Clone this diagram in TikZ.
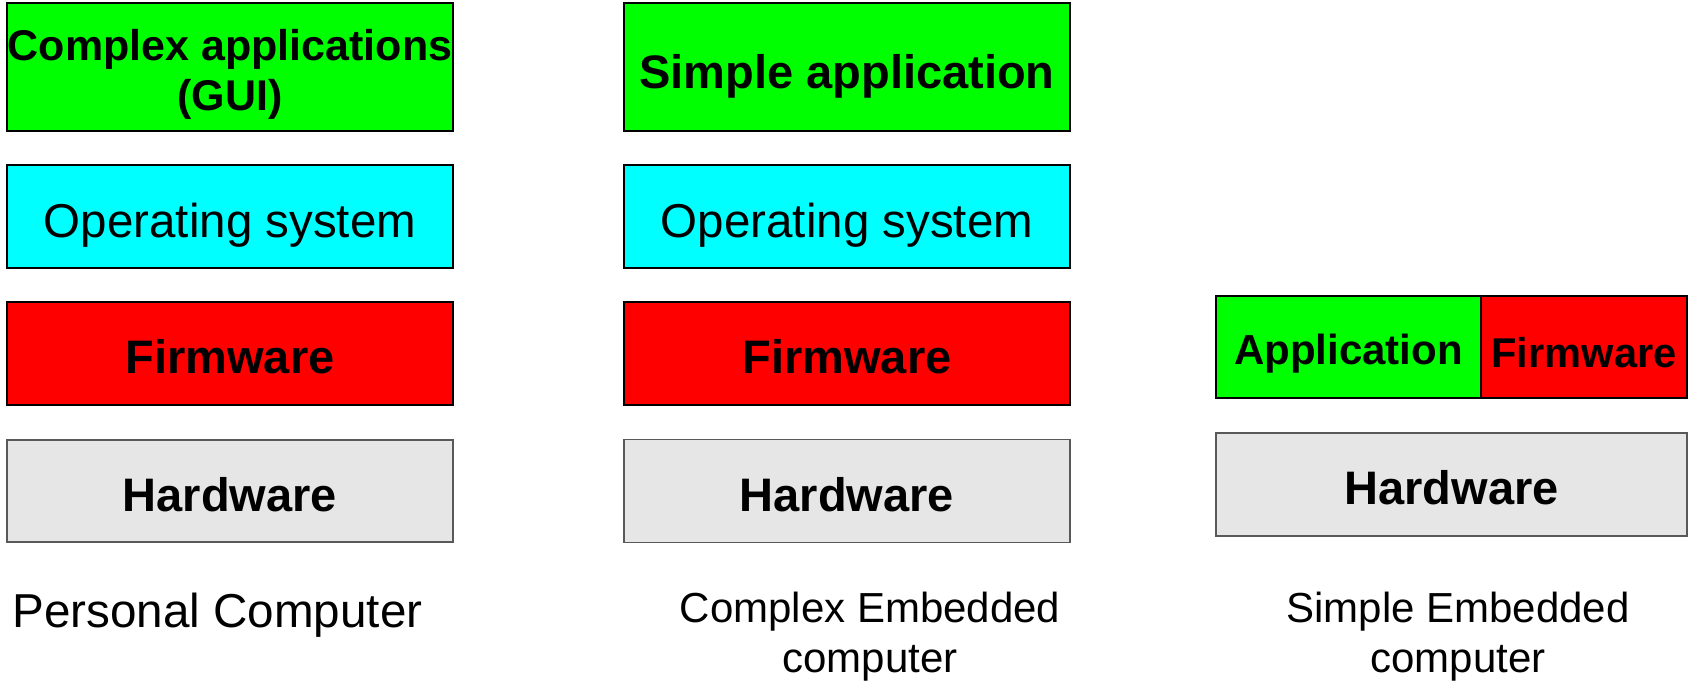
\documentclass[tikz,border=0pt]{standalone}
\usepackage{fontspec}
\setmainfont{Liberation Sans}
\definecolor{appgreen}{HTML}{00FF00}
\definecolor{oscyan}{HTML}{00FFFF}
\definecolor{fwred}{HTML}{FF0000}
\definecolor{hwgray}{HTML}{E6E6E6}

\begin{document}
\begin{tikzpicture}[x=0.5pt,y=-0.5pt,
  layer/.style={draw=black,line width=0.75pt,inner sep=0pt,outer sep=0pt,align=center,
    minimum height=51.5pt,text height=20pt,text depth=0pt,
    font=\bfseries\fontsize{23.5}{28}\selectfont},
  wide/.style={layer,minimum width=223pt},
  applayer/.style={fill=appgreen},
  oslayer/.style={fill=oscyan,text height=20.5pt,font=\fontsize{23.75}{28}\selectfont},
  fwlayer/.style={fill=fwred},
  hwlayer/.style={fill=hwgray,draw=black!65},
  small/.style={text height=17pt,font=\bfseries\fontsize{21}{25}\selectfont},
  caption/.style={inner sep=0pt,align=center,font=\fontsize{21}{25}\selectfont}]
  \useasboundingbox (0,0) rectangle (1692,681);
  % personal computer
  \node[wide,applayer,minimum height=64pt,text height=43pt,font=\bfseries\fontsize{21.5}{25}\selectfont] (pcapp) at (230,67) {Complex applications\\(GUI)};
  \node[wide,oslayer] (pcos) at (230,216.5) {Operating system};
  \node[wide,fwlayer] (pcfw) at (230,353.5) {Firmware};
  \node[wide,hwlayer,minimum height=51pt] (pchw) at (230,491) {Hardware};
  \node[caption,anchor=base west,font=\fontsize{23.8}{28}\selectfont] (pclabel) at (12,627) {Personal Computer};
  % complex embedded computer
  \node[wide,applayer,minimum height=64pt,text height=21pt] (ceapp) at (847,67) {Simple application};
  \node[wide,oslayer] (ceos) at (847,216.5) {Operating system};
  \node[wide,fwlayer] (cefw) at (847,353.5) {Firmware};
  \node[wide,hwlayer] (cehw) at (847,491) {Hardware};
  \node[caption,anchor=base] (celabel) at (870,672) {Complex Embedded\\computer};
  % simple embedded computer
  \node[layer,applayer,small,minimum width=132.5pt,minimum height=51pt] (seapp) at (1348.5,347) {Application};
  \node[layer,fwlayer,small,minimum width=103pt,minimum height=51pt,text height=20pt,font=\bfseries\fontsize{20.8}{25}\selectfont] (sefw) at (1584,347) {Firmware};
  \node[layer,hwlayer,minimum width=235.5pt] (sehw) at (1451.5,484.5) {Hardware};
  \node[caption,anchor=base] (selabel) at (1458,672) {Simple Embedded\\computer};
\end{tikzpicture}
\end{document}
